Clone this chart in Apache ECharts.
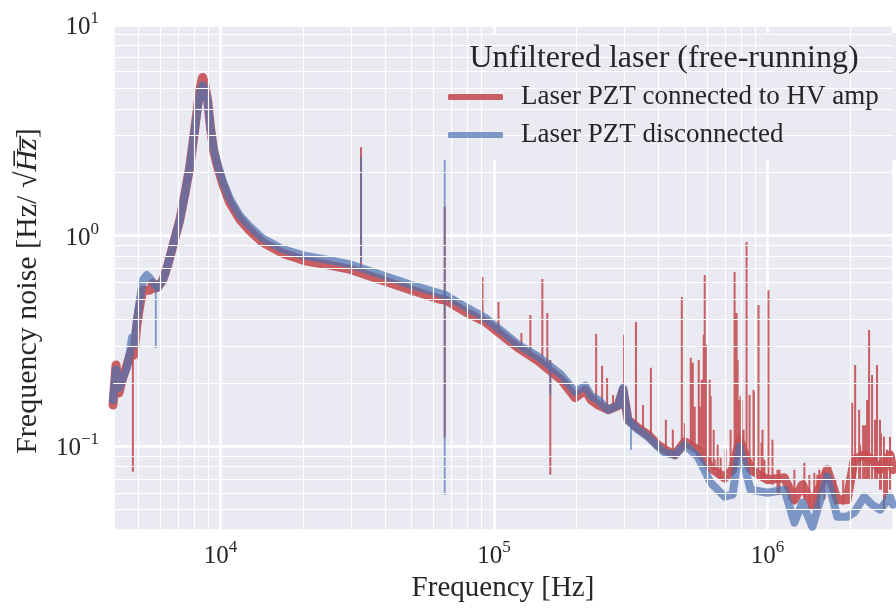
<!DOCTYPE html>
<html><head><meta charset="utf-8">
<script src="https://cdn.jsdelivr.net/npm/echarts@6/dist/echarts.min.js"></script>
<style>html,body{margin:0;padding:0;background:#fff}#c{width:896px;height:608px}</style>
</head><body><div id="c"></div>
<script>
// ---- data ----
const bandFreq = [4043,4145,4250,4395,4547,4662,4741,4821,4943,5069,
  5197,5375,5512,5652,5748,5895,6148,6412,6630,6857,
  7090,7395,7712,8040,8246,8455,8598,8744,8966,9194,
  9430,9752,10169,10784,11728,12755,14223,16821,20575,24950,
  29510,38920,50060,62800,66580,78740,93120,110120,122830,145270,
  176150,198130,215440,226580,240280,261320,284190,296370,309030,336000,
  365400,397400,421400,458400,498500,555900,619900,697200,745500,790700,
  867000,1000000,1153200,1254100,1341500,1458700,1654200,1798900,1956300,2074700,
  2256000,2412400,2579400,2805600,2877400];
const redBand = [0.157,0.243,0.179,0.213,0.243,0.271,0.287,0.271,0.376,0.468,
  0.551,0.551,0.551,0.595,0.563,0.569,0.615,0.725,0.854,1.006,
  1.18,1.56,2.11,3.16,4.15,5.17,5.64,5.28,4.39,3.23,
  2.54,2.13,1.77,1.44,1.20,1.06,0.932,0.826,0.757,0.725,
  0.694,0.615,0.551,0.500,0.494,0.434,0.389,0.327,0.293,0.254,
  0.207,0.170,0.185,0.166,0.157,0.149,0.156,0.185,0.1335,0.122,
  0.1134,0.1016,0.0963,0.0911,0.1050,0.0963,0.0791,0.0709,0.0774,0.1073,
  0.0774,0.0694,0.0709,0.0558,0.0657,0.0528,0.0774,0.0558,0.0558,0.0863,
  0.0911,0.0863,0.0774,0.0911,0.0774];
const blueBand = [0.166,0.231,0.189,0.211,0.236,0.280,0.327,0.303,0.398,0.494,
  0.615,0.650,0.629,0.602,0.582,0.569,0.615,0.725,0.854,1.006,
  1.18,1.56,2.11,3.16,4.02,4.89,5.17,5.00,4.39,3.23,
  2.60,2.18,1.83,1.51,1.25,1.11,0.973,0.863,0.800,0.765,
  0.733,0.650,0.582,0.533,0.522,0.458,0.406,0.341,0.303,0.266,
  0.218,0.181,0.194,0.173,0.166,0.149,0.156,0.189,0.1335,0.1197,
  0.1109,0.0995,0.0932,0.0911,0.1016,0.0892,0.0671,0.0576,0.0589,0.0995,
  0.0622,0.0602,0.0622,0.0434,0.0540,0.0415,0.0717,0.0463,0.0463,0.0484,
  0.0576,0.0528,0.0500,0.0576,0.0528];
const redSpikeFreq = [4780,32640,66020,90800,103850,125950,135830,150230,156650,160630,
  236280,248500,259140,272500,298860,330410,350500,374770,425000,450700,
  486100,498500,524200,533100,542100,560600,570000,574900,584700,589500,
  599500,614800,619900,635700,641100,657400,674100,703000,733100,758200,
  771000,777500,784100,797300,804100,817700,838500,859800,889100,896500,
  927200,951000,958900,975100,1008400,1042800,1087600,1105800,1202600,1254100,
  1364100,1422500,1483400,1521000,1546900,1613200,1769000,1891800,2040200,2092100,
  2163600,2182000,2237200,2275000,2313400,2352600,2412400,2473700,2515600,2579400,
  2601000,2667000,2691000,2735900,2805600];
const redSpikeTop = [0.303,2.63,1.37,0.636,0.484,0.345,0.420,0.622,0.429,0.257,
  0.341,0.241,0.211,0.175,0.338,0.389,0.157,0.236,0.1335,0.1197,
  0.511,0.129,0.263,0.249,0.154,0.257,0.154,0.207,0.338,0.650,
  0.303,0.207,0.173,0.1197,0.0863,0.1016,0.0882,0.0963,0.1197,0.672,
  0.429,0.257,0.166,0.173,0.166,0.1197,0.932,0.175,0.185,0.181,
  0.468,0.1039,0.1197,0.0863,0.551,0.1073,0.0774,0.0774,0.0657,0.0774,
  0.0835,0.0733,0.0749,0.0733,0.0774,0.0774,0.0694,0.0694,0.161,0.243,
  0.149,0.1016,0.126,0.126,0.166,0.356,0.218,0.1335,0.243,0.1335,
  0.1154,0.1109,0.0863,0.0963,0.1109];
const redSpikeBottom = [0.0757,0.701,0.1097,0.398,0.338,0.287,0.271,0.257,0.243,0.0733,
  0.166,0.157,0.149,0.149,0.175,0.126,0.1197,0.1134,0.0932,0.0911,
  0.0963,0.1016,0.1016,0.1016,0.0963,0.0963,0.0963,0.0963,0.0911,0.0911,
  0.0911,0.0863,0.0791,0.0774,0.0774,0.0733,0.0694,0.0694,0.0733,0.0774,
  0.0863,0.0963,0.0963,0.0963,0.0963,0.0911,0.0863,0.0774,0.0733,0.0733,
  0.0774,0.0694,0.0694,0.0694,0.0694,0.0657,0.0589,0.0589,0.0558,0.0528,
  0.0558,0.0500,0.0500,0.0500,0.0500,0.0558,0.0528,0.0528,0.0694,0.0694,
  0.0694,0.0694,0.0694,0.0694,0.0694,0.0694,0.0694,0.0694,0.0694,0.0622,
  0.0622,0.0500,0.0558,0.0589,0.0622];
const blueSpikeFreq = [5797,32640,66020,160630,316860];
const blueSpikeTop = [0.582,2.36,2.28,0.243,0.1335];
const blueSpikeBottom = [0.293,0.749,0.0589,0.175,0.0963];

const xMinorTicks = [5000,6000,7000,8000,9000,20000,30000,40000,50000,60000,70000,80000,90000,
  200000,300000,400000,500000,600000,700000,800000,900000,2000000];
const yMinorTicks = [0.05,0.06,0.07,0.08,0.09,0.2,0.3,0.4,0.5,0.6,0.7,0.8,0.9,2,3,4,5,6,7,8,9];
const xTickExponents = [4,5,6];
const yTickExponents = [-1,0,1];

const seriesNames = ['Laser PZT connected to HV amp','Laser PZT disconnected'];
const legendTitle = 'Unfiltered laser (free-running)';

// ---- styling ----
const FONT = '"Liberation Serif", "DejaVu Serif", serif';
const TXT = '#262626';
const RED = 'rgba(196,78,82,0.9)';
const BLUE = 'rgba(76,114,176,0.7)';

function zip(xs, ys){ return xs.map((x,i)=>[x, ys[i]]); }
function spikes(xs, top, bot){
  const out = [];
  xs.forEach((x,i)=>{ out.push([x, bot[i]]); out.push([x, top[i]]); out.push(['-','-']); });
  return out;
}
function powLabel(exps){
  return function(v){
    const e = Math.log10(v), r = Math.round(e);
    if (Math.abs(e - r) > 1e-6 || exps.indexOf(r) < 0) return '';
    return '{b|10}{s|' + (r < 0 ? '\u2212' + (-r) : r) + '}';
  };
}
const labelRich = {
  b: {fontFamily: FONT, fontSize: 25, color: TXT, verticalAlign: 'bottom', lineHeight: 30},
  s: {fontFamily: FONT, fontSize: 17, color: TXT, verticalAlign: 'top', lineHeight: 30}
};

const chart = echarts.init(document.getElementById('c'), null, {renderer: 'canvas'});
chart.setOption({
  animation: false,
  backgroundColor: '#ffffff',
  grid: {left: 113, right: 0, top: 25, bottom: 76, show: true, backgroundColor: '#EAEAF2', borderWidth: 0, containLabel: false},
  xAxis: {
    type: 'log', logBase: 10, min: 4043, max: 2877400,
    name: 'Frequency [Hz]', nameLocation: 'middle', nameGap: 42,
    nameTextStyle: {fontFamily: FONT, fontSize: 29, color: TXT},
    axisLine: {show: false}, axisTick: {show: false},
    axisLabel: {formatter: powLabel(xTickExponents), margin: 9, rich: labelRich, color: TXT},
    splitLine: {show: true, lineStyle: {color: '#ffffff', width: 2.5}},
    minorTick: {show: false}, minorSplitLine: {show: false}
  },
  yAxis: {
    type: 'log', logBase: 10, min: 0.04, max: 10,
    name: '{n|Frequency noise [Hz/ \u221A}{i|H\u0305z\u0305}{n|]}', nameLocation: 'middle', nameGap: 70,
    nameTextStyle: {fontFamily: FONT, fontSize: 30, color: TXT, padding: [0, 27, 0, 0],
      rich: {n: {fontFamily: FONT, fontSize: 30, color: TXT}, i: {fontFamily: FONT, fontSize: 30, color: TXT, fontStyle: 'italic'}}},
    axisLine: {show: false}, axisTick: {show: false},
    axisLabel: {formatter: powLabel(yTickExponents), margin: 14, rich: labelRich, color: TXT},
    splitLine: {show: true, lineStyle: {color: '#ffffff', width: 2.5}},
    minorTick: {show: false}, minorSplitLine: {show: false}
  },
  legend: {
    data: seriesNames, orient: 'vertical', left: 448, top: 82, padding: 0,
    itemWidth: 55, itemHeight: 6, itemGap: 8, icon: 'roundRect', selectedMode: false,
    textStyle: {fontFamily: FONT, fontSize: 27, color: TXT, lineHeight: 30, padding: [0,0,0,13]},
    z: 6
  },
  graphic: [
    {type: 'rect', shape: {x: 437, y: 33, width: 470, height: 127}, style: {fill: '#EAEAF2'}, z: 4, silent: true},
    {type: 'text', x: 664, y: 59, z: 7, silent: true,
     style: {text: legendTitle, fontFamily: FONT, fontSize: 32, fill: TXT, align: 'center', verticalAlign: 'middle'}}
  ],
  series: [
    {type: 'line', name: 'minor-grid', data: [], z: 1, silent: true,
     markLine: {silent: true, symbol: ['none','none'], label: {show: false}, animation: false,
       lineStyle: {color: '#ffffff', width: 1.2, type: 'solid'},
       emphasis: {disabled: true},
       data: xMinorTicks.map(v=>({xAxis: v})).concat(yMinorTicks.map(v=>({yAxis: v})))}},
    {type: 'line', name: seriesNames[0], data: zip(bandFreq, redBand), z: 2, showSymbol: false, symbol: 'none',
     itemStyle: {color: RED}, lineStyle: {color: RED, width: 9, join: 'round', cap: 'round'}, silent: true},
    {type: 'line', name: 'red-spikes', data: spikes(redSpikeFreq, redSpikeTop, redSpikeBottom), z: 2, showSymbol: false, symbol: 'none',
     connectNulls: false, itemStyle: {color: RED}, lineStyle: {color: RED, width: 2}, silent: true},
    {type: 'line', name: seriesNames[1], data: zip(bandFreq, blueBand), z: 3, showSymbol: false, symbol: 'none',
     itemStyle: {color: BLUE}, lineStyle: {color: BLUE, width: 8, join: 'round', cap: 'round'}, silent: true},
    {type: 'line', name: 'blue-spikes', data: spikes(blueSpikeFreq, blueSpikeTop, blueSpikeBottom), z: 3, showSymbol: false, symbol: 'none',
     connectNulls: false, itemStyle: {color: BLUE}, lineStyle: {color: BLUE, width: 1.8}, silent: true}
  ]
});
</script></body></html>
